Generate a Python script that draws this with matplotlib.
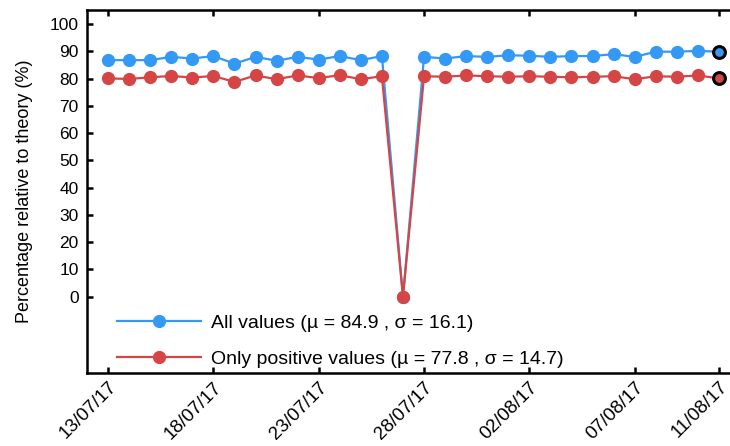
import numpy as np
import pandas as pd
import matplotlib
matplotlib.use("Agg")
import matplotlib.pyplot as plt
import matplotlib.dates as mdates

plt.rcParams['font.family'] = ['Liberation Sans', 'DejaVu Sans']

# daily values, 13/07/17 .. 11/08/17
dates = pd.date_range("2017-07-13", "2017-08-11", freq="D")
all_values = [86.8, 86.8, 86.8, 88.0, 87.4, 88.3, 85.5, 88.0, 86.6, 88.0,
              87.0, 88.3, 86.8, 88.3, 0.0, 88.0, 87.4, 88.3, 88.0, 88.6,
              88.4, 88.0, 88.3, 88.3, 89.0, 88.0, 89.9, 89.9, 90.2, 89.9]
pos_values = [80.1, 79.9, 80.5, 81.0, 80.4, 81.0, 78.8, 81.2, 79.8, 81.2,
              80.2, 81.3, 79.8, 80.9, 0.0, 80.9, 80.7, 81.2, 80.9, 80.7,
              80.9, 80.7, 80.5, 80.7, 80.9, 79.8, 80.9, 80.7, 81.2, 80.1]
tick_dates = ["2017-07-13", "2017-07-18", "2017-07-23", "2017-07-28",
              "2017-08-02", "2017-08-07", "2017-08-11"]
labels = ["All values (\u00b5 = 84.9 , \u03c3 = 16.1)",
          "Only positive values (\u00b5 = 77.8 , \u03c3 = 14.7)"]

blue = "#3399f5"
red = "#d64545"

fig = plt.figure(figsize=(7.3, 4.46), dpi=100)
ax = fig.add_axes([87 / 730, 1 - 373 / 446, (740 - 87) / 730, (373 - 10) / 446])

ax.plot(dates, all_values, color=blue, lw=1.6, marker="o", ms=8.5, label=labels[0])
ax.plot(dates, pos_values, color=red, lw=1.6, marker="o", ms=8.5, label=labels[1])
# last point highlighted with a black ring
ax.plot(dates[-1:], all_values[-1:], ls="none", marker="o", ms=8.5,
        mfc=blue, mec="black", mew=2.2)
ax.plot(dates[-1:], pos_values[-1:], ls="none", marker="o", ms=8.5,
        mfc=red, mec="black", mew=2.2)

ax.set_xlim(pd.Timestamp("2017-07-12"), pd.Timestamp("2017-08-12"))
ax.set_ylim(-28, 105.2)
ax.set_yticks(np.arange(0, 101, 10))
ax.set_xticks(pd.to_datetime(tick_dates))
ax.xaxis.set_major_formatter(mdates.DateFormatter("%d/%m/%y"))

ax.tick_params(direction="in", top=True, right=True, length=4, width=1.8,
               labelsize=12.5)
ax.tick_params(axis="y", pad=6)
ax.tick_params(axis="x", pad=4, labelsize=13.5)
plt.setp(ax.get_xticklabels(), rotation=45, ha="right", rotation_mode="anchor")
for s in ax.spines.values():
    s.set_linewidth(1.8)

ax.set_ylabel("Percentage relative to theory (%)", fontsize=13, labelpad=12)
ax.legend(loc="lower left", frameon=False, fontsize=14, handlelength=4.3,
          handletextpad=0.55, labelspacing=0.93, borderaxespad=0.0,
          bbox_to_anchor=(0.034, -0.0075))

fig.savefig("out.png", dpi=100)
